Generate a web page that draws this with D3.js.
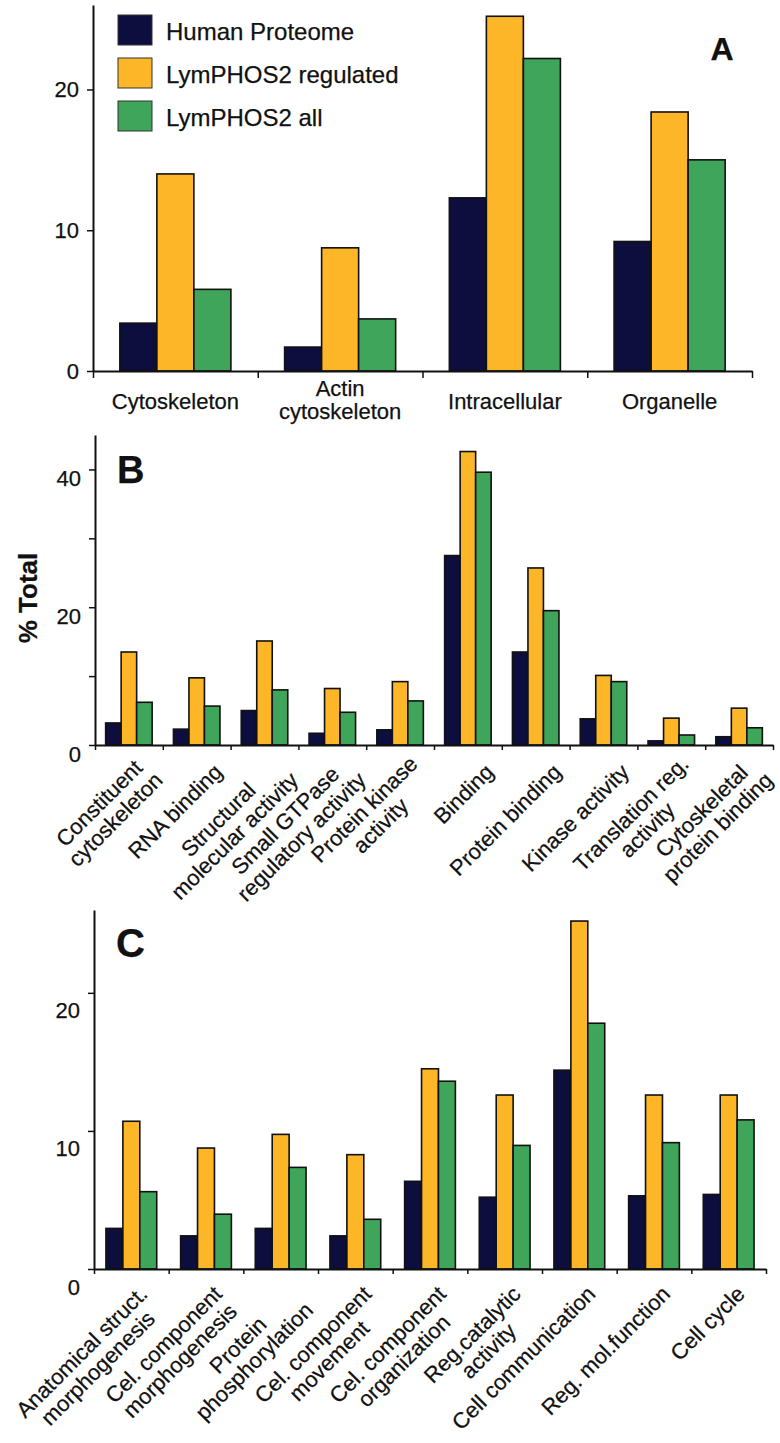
<!DOCTYPE html>
<html><head><meta charset="utf-8">
<script src="https://cdn.jsdelivr.net/npm/d3@7"></script>
<style>
body{margin:0;background:#fff}
svg{display:block}
text{font-family:"Liberation Sans",Arial,Helvetica,sans-serif;fill:#111;stroke:#111;stroke-width:0.25px}
</style>
</head><body>
<svg id="c" width="780" height="1443"></svg>
<script>
// ---------- data ----------
const seriesNames = ["Human Proteome", "LymPHOS2 regulated", "LymPHOS2 all"];
const seriesColors = ["#0e0e3e", "#fdb627", "#3fa55a"];

const categoriesA = ["Cytoskeleton", "Actin\ncytoskeleton", "Intracellular", "Organelle"];
const humanA = [3.4, 1.7, 12.3, 9.2];
const regulatedA = [14.0, 8.75, 25.2, 18.4];
const allA = [5.8, 3.7, 22.2, 15.0];
const ticksA = [0, 10, 20];
const tickLabelsA = ["0", "10", "20"];

const categoriesB = ["Constituent\ncytoskeleton", "RNA binding", "Structural\nmolecular activity",
  "Small GTPase\nregulatory activity", "Protein kinase\nactivity", "Binding", "Protein binding",
  "Kinase activity", "Translation reg.\nactivity", "Cytoskeletal\nprotein binding"];
const humanB = [3.2, 2.3, 5.0, 1.7, 2.2, 27.5, 13.5, 3.8, 0.6, 1.2];
const regulatedB = [13.5, 9.75, 15.1, 8.2, 9.2, 42.6, 25.7, 10.1, 3.9, 5.35];
const allB = [6.2, 5.65, 8.0, 4.75, 6.4, 39.6, 19.5, 9.2, 1.45, 2.5];
const ticksB = [0, 10, 20, 30, 40];
const tickLabelsB = ["0", "", "20", "", "40"];

const categoriesC = ["Anatomical struct.\nmorphogenesis", "Cel. component\nmorphogenesis", "Protein\nphosphorylation",
  "Cel. component\nmovement", "Cel. component\norganization", "Reg.catalytic\nactivity", "Cell communication",
  "Reg. mol.function", "Cell cycle"];
const humanC = [2.94, 2.4, 2.94, 2.4, 6.35, 5.2, 14.4, 5.3, 5.4];
const regulatedC = [10.7, 8.76, 9.75, 8.28, 14.5, 12.6, 25.2, 12.6, 12.6];
const allC = [5.6, 3.97, 7.36, 3.6, 13.6, 8.95, 17.8, 9.15, 10.8];
const ticksC = [0, 10, 20];
const tickLabelsC = ["0", "10", "20"];

const yTitle = "% Total";

// ---------- drawing ----------
const svg = d3.select("#c");

function panel(cfg) {
  const g = svg.append("g");
  const n = cfg.cats.length;
  const y = d3.scaleLinear().domain([0, cfg.ymax]).range([cfg.y0, cfg.yTop]);
  const x = d3.scaleBand().domain(d3.range(n)).range([cfg.x0, cfg.x1])
    .paddingInner(cfg.pad).paddingOuter(cfg.pad / 2);
  const xs = d3.scaleBand().domain(d3.range(3)).range([0, x.bandwidth()]);
  const xb = d3.scaleLinear().domain([0, n]).range([cfg.x0, cfg.x1]);

  const data = [];
  cfg.series.forEach((s, k) => s.forEach((v, i) => data.push({ i, k, v })));

  g.selectAll("rect.bar").data(data).join("rect")
    .attr("class", "bar")
    .attr("x", d => x(d.i) + xs(d.k))
    .attr("width", xs.bandwidth())
    .attr("y", d => y(d.v))
    .attr("height", d => y(0) - y(d.v))
    .attr("fill", d => seriesColors[d.k])
    .attr("stroke", "#111").attr("stroke-width", 1.6);

  // y axis
  const ya = g.append("g").attr("transform", `translate(${cfg.x0},0)`)
    .call(d3.axisLeft(y).tickValues(cfg.ticks).tickSize(6).tickSizeOuter(0).tickPadding(8)
      .tickFormat((d, i) => cfg.tickLabels[i]));
  ya.select(".domain").attr("stroke", "#111").attr("stroke-width", 2);
  ya.selectAll(".tick line").attr("stroke", "#111").attr("stroke-width", 1.5);
  ya.selectAll(".tick text").attr("font-size", cfg.tickFont).attr("fill", "#111")
    .attr("font-family", '"Liberation Sans",Arial,sans-serif')
    .attr("dy", (0.32 * cfg.tickFont + cfg.tickLabelShift) + "px");

  // x axis (ticks at band boundaries)
  const xa = g.append("g").attr("transform", `translate(0,${cfg.y0})`)
    .call(d3.axisBottom(xb).tickValues(d3.range(n + 1)).tickSize(cfg.xTick).tickSizeOuter(0).tickFormat(""));
  xa.select(".domain").attr("stroke", "#111").attr("stroke-width", 2);
  xa.selectAll(".tick line").attr("stroke", "#111").attr("stroke-width", 1.5);

  // category labels
  const lf = cfg.labelFont;
  if (!cfg.rotate) {
    cfg.cats.forEach((c, i) => {
      const lines = c.split("\n");
      const cx = x(i) + x.bandwidth() / 2;
      const t = g.append("text").attr("text-anchor", "middle").attr("font-size", lf);
      lines.forEach((ln, j) => {
        const base = lines.length === 1 ? cfg.labelY : cfg.labelY - 13 + j * 23;
        t.append("tspan").attr("x", cx).attr("y", base).text(ln);
      });
    });
  } else {
    cfg.cats.forEach((c, i) => {
      const lines = c.split("\n");
      const cx = x(i) + x.bandwidth() / 2 + cfg.labelDx;
      const lg = g.append("g").attr("transform", `translate(${cx},${cfg.y0 + cfg.labelDy}) rotate(-45)`);
      const off = cfg.firstLineAnchor ? 0 : (lines.length - 1) / 2;
      const ts = lines.map((ln, j) => lg.append("text").attr("font-size", lf)
        .attr("text-anchor", "middle")
        .attr("y", (j - off) * cfg.lineH)
        .attr("dy", "0.35em").text(ln));
      const maxW = d3.max(ts, t => t.node().getComputedTextLength());
      ts.forEach(t => t.attr("x", -maxW / 2));
    });
  }

  // panel letter
  g.append("text").attr("x", cfg.letterX).attr("y", cfg.letterY).attr("font-size", cfg.letterSize)
    .attr("font-weight", "bold").attr("text-anchor", cfg.letterAnchor || "start").text(cfg.letter);
  return g;
}

panel({
  cats: categoriesA, series: [humanA, regulatedA, allA], ymax: 26,
  x0: 93, x1: 752, y0: 371, yTop: 5, pad: 0.326,
  ticks: ticksA, tickLabels: tickLabelsA, tickFont: 22, tickLabelShift: 0, xTick: 7,
  labelFont: 22, labelY: 409, rotate: false,
  letter: "A", letterX: 722, letterY: 60, letterSize: 32, letterAnchor: "middle"
});

panel({
  cats: categoriesB, series: [humanB, regulatedB, allB], ymax: 45,
  x0: 95, x1: 773, y0: 745, yTop: 435, pad: 0.314,
  ticks: ticksB, tickLabels: tickLabelsB, tickFont: 22, tickLabelShift: 9, xTick: 5,
  labelFont: 22, rotate: true, labelDx: 21.5, labelDy: 23, lineH: 23, firstLineAnchor: false,
  letter: "B", letterX: 117, letterY: 483, letterSize: 38
});

panel({
  cats: categoriesC, series: [humanC, regulatedC, allC], ymax: 26,
  x0: 94, x1: 766, y0: 1269, yTop: 910, pad: 0.32,
  ticks: ticksC, tickLabels: tickLabelsC, tickFont: 22, tickLabelShift: 18, xTick: 5,
  labelFont: 22, rotate: true, labelDx: 12, labelDy: 21, lineH: 23, firstLineAnchor: true,
  letter: "C", letterX: 116, letterY: 957, letterSize: 40
});

// y-axis title
svg.append("text").attr("transform", "translate(28,598) rotate(-90)")
  .attr("text-anchor", "middle").attr("dy", "0.35em")
  .attr("font-size", 26).attr("font-weight", "bold").text(yTitle);

// legend
const legY = [15, 58, 101];
const leg = svg.append("g");
seriesNames.forEach((s, k) => {
  leg.append("rect").attr("x", 118).attr("y", legY[k]).attr("width", 34).attr("height", 30)
    .attr("fill", seriesColors[k]).attr("stroke", "#333").attr("stroke-width", 1);
  leg.append("text").attr("x", 166).attr("y", legY[k] + 25).attr("font-size", 24).text(s);
});
</script>
</body></html>
